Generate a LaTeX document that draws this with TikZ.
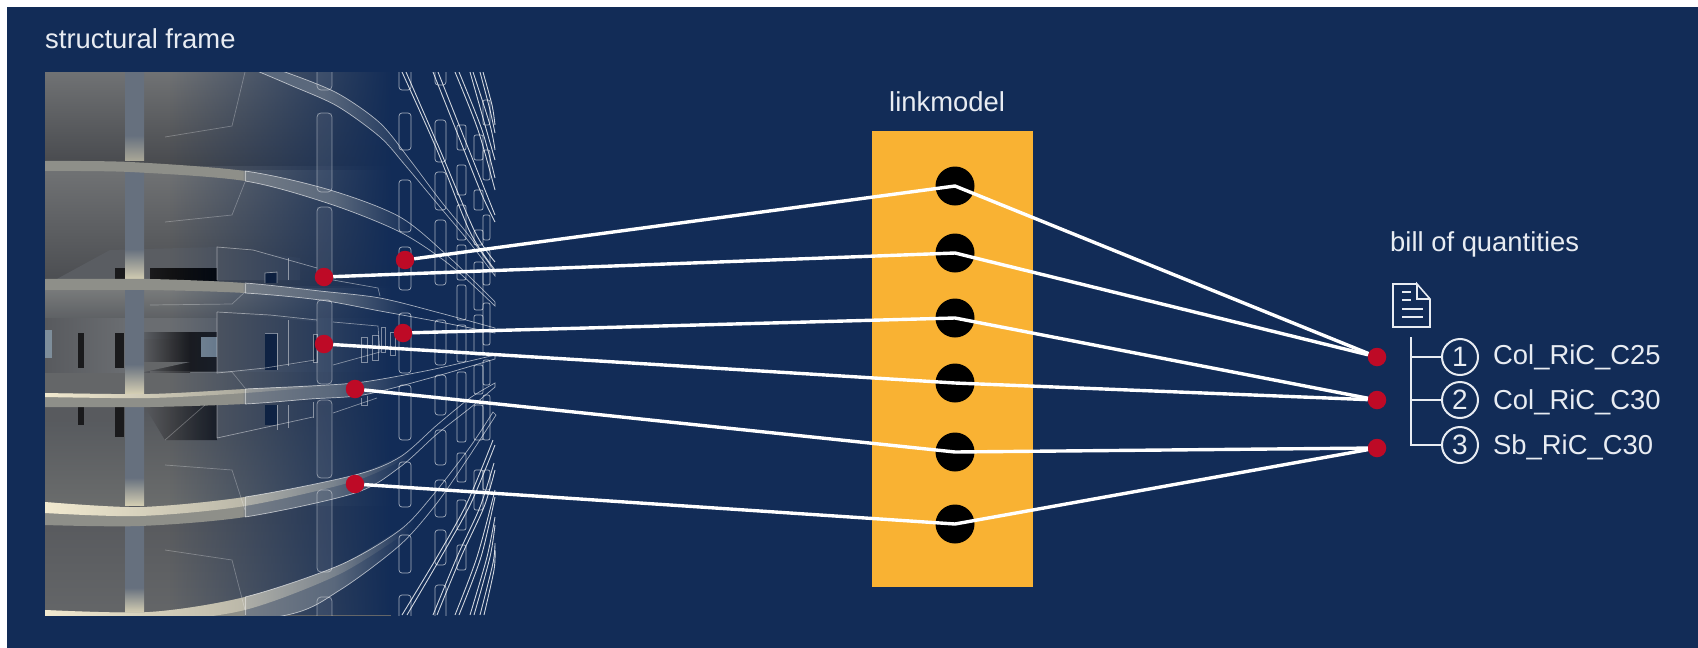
\documentclass[tikz,border=0pt]{standalone}
\usepackage{fontspec}
\setmainfont{Liberation Sans}
\usetikzlibrary{fadings}
\definecolor{navy}{HTML}{122C57}
\definecolor{orangeb}{HTML}{F9B233}
\definecolor{redd}{HTML}{BE0A26}
\definecolor{txt}{HTML}{E8ECF2}
\definecolor{cream}{HTML}{F2EAD0}
\definecolor{sg}{HTML}{8E8F89}
\definecolor{sb}{HTML}{747C86}
\definecolor{sm}{HTML}{5A687C}
\definecolor{slate}{HTML}{66707E}
\definecolor{glow}{HTML}{D2CCB2}
\definecolor{glowb}{HTML}{A8A697}
\definecolor{wa}{HTML}{707274}
\definecolor{wb}{HTML}{484A4E}
\definecolor{wc}{HTML}{4A4C50}
\definecolor{wd}{HTML}{7A7C7C}
\definecolor{we}{HTML}{5C5F63}
\definecolor{wg}{HTML}{54575C}
\definecolor{wh}{HTML}{6A6C6C}
\definecolor{wi}{HTML}{585A5E}
\definecolor{wj}{HTML}{646668}
\definecolor{wk}{HTML}{6A6D71}
\definecolor{wm}{HTML}{5A5D62}
\definecolor{win}{HTML}{7E8E9B}
\definecolor{dk}{HTML}{1A1A1C}
\pgfdeclarehorizontalshading{slabsh}{100bp}{color(0bp)=(sg);color(46.9bp)=(sg);color(47.4bp)=(sb);color(57bp)=(sm);color(66bp)=(navy);color(100bp)=(navy)}
\pgfdeclarehorizontalshading{slabshb}{100bp}{color(0bp)=(sm);color(40bp)=(sm);color(60bp)=(navy);color(100bp)=(navy)}
\pgfdeclareverticalshading{colsh}{100bp}{color(0bp)=(glow);color(25bp)=(glow);color(39bp)=(slate);color(100bp)=(slate)}
\pgfdeclareverticalshading{colshb}{100bp}{color(0bp)=(glowb);color(25bp)=(glowb);color(39bp)=(slate);color(100bp)=(slate)}
\tikzfading[name=fadein, left color=transparent!100, right color=transparent!0]
\tikzfading[name=fadeout, left color=transparent!0, middle color=transparent!20, right color=transparent!100]
\tikzfading[name=fadebump, left color=transparent!100, middle color=transparent!0, right color=transparent!100]
\tikzset{
  wl/.style={draw=white, draw opacity=.62, line width=.7pt},
  wo/.style={draw=white, draw opacity=.8, line width=.9pt},
  wfl/.style={draw=white, draw opacity=.28, line width=.7pt},
  wb2/.style={draw=white, draw opacity=.45, line width=.7pt},
  link/.style={draw=white, line width=3.4pt, line join=round},
  rdot/.style={circle, fill=redd, minimum size=18.5pt, inner sep=0pt, outer sep=0pt},
  bdot/.style={circle, fill=black, minimum size=39pt, inner sep=0pt, outer sep=0pt},
  lab/.style={anchor=base west, inner sep=0pt, text=txt, font=\fontsize{27.4}{30}\selectfont},
  num/.style={circle, draw=txt, line width=2pt, minimum size=36pt, inner sep=0pt, text=txt, font=\fontsize{28}{30}\selectfont},
  tree/.style={draw=txt, line width=1.8pt},
  doc/.style={draw=txt, line width=1.6pt},
}
\def\slabApath{plot[smooth] coordinates {(45,161)(130,162)(245,171)(330,190)(400,217)(450,258)(495,302)} -- plot[smooth] coordinates {(495,306)(450,265)(400,232)(330,204)(245,181)(130,172)(45,171)} -- cycle}
\def\slabBpath{plot[smooth] coordinates {(250,62)(285,72)(337,93)(380,123)(410,160)(440,200)(470,237)(495,272)} -- plot[smooth] coordinates {(495,276)(470,243)(440,207)(405,165)(380,137)(337,106)(290,85)(250,68)} -- cycle}
\def\slabCpath{plot[smooth] coordinates {(45,279)(150,279)(245,283)(320,291)(380,298)(440,313)(495,328)} -- plot[smooth] coordinates {(495,333)(440,322)(380,311)(320,300)(245,293)(150,290)(45,290)} -- cycle}
\def\slabDpath{plot[smooth] coordinates {(45,393)(150,394)(245,389)(310,386)(363,382)(430,370)(495,355)} -- plot[smooth] coordinates {(495,359)(430,378)(363,395)(310,399)(245,404)(150,407)(45,407)} -- cycle}
\def\slabEpath{plot[smooth] coordinates {(45,502)(140,507)(245,497)(355,475)(400,457)(437,425)(470,398)(495,383)} -- plot[smooth] coordinates {(495,387)(470,408)(437,434)(400,467)(355,493)(245,517)(140,526)(45,525)} -- cycle}
\def\slabFpath{plot[smooth] coordinates {(45,610)(150,612)(245,597)(340,565)(400,530)(433,495)(470,447)(493,412)} -- plot[smooth] coordinates {(496,415)(470,455)(437,503)(400,545)(340,590)(287,615)(150,630)(45,630)} -- cycle}
\begin{document}
\begin{tikzpicture}[x=1pt,y=-1pt]
\useasboundingbox (0,0) rectangle (1698,648);
\fill[white] (0,0) rectangle (1698,648);
\fill[navy] (7,7) rectangle (1698,648);

\begin{scope}
\clip (45,72) rectangle (497,615);
% floors
\fill[wi] (45,72) rectangle (395,615);
\shade[top color=wa, bottom color=wb] (45,72) rectangle (395,165);
\shade[top color=wa, bottom color=wc] (45,170) rectangle (395,285);
\shade[top color=wd, bottom color=we] (45,288) rectangle (395,320);
\fill[wk] (45,318) rectangle (395,372);
\fill[wj] (45,372) rectangle (395,395);
\shade[top color=wg, bottom color=wh] (45,405) rectangle (395,505);
\shade[top color=wi, bottom color=wj] (45,520) rectangle (395,615);
% upper floor interior
\fill[wm] (55,280) -- (110,250) -- (217,247) -- (217,280) -- cycle;
\fill[dk] (115,268) rectangle (125,280);
\shade[left color=dk, right color=black] (150,268) rectangle (217,280);
\fill[wm] (217,247) -- (300,258) -- (300,280) -- (217,280) -- cycle;
\fill[navy!50!black] (265,273) rectangle (277,283);
% middle floor interior
\shade[left color=wi, right color=wk] (45,318) rectangle (125,372);
\fill[dk] (78,333) rectangle (84,368);
\fill[dk] (115,333) rectangle (124,368);
\fill[win] (45,330) rectangle (52,358);
\shade[left color=wi, right color=dk] (144,332) rectangle (190,372);
\fill[dk] (190,332) rectangle (217,372);
\shade[left color=wm, right color=dk] (144,332) rectangle (190,338);
\fill[win] (201,337) rectangle (217,357);
\fill[wj] (144,362) -- (190,362) -- (144,372) -- cycle;
\fill[wm] (217,312) -- (317,322) -- (317,362) -- (217,373) -- cycle;
\fill[navy!60!black] (265,333) rectangle (277,370);
\fill[dk] (313,334) rectangle (316,362);
% lower-middle floor interior
\fill[wi] (45,405) rectangle (125,422);
\fill[dk] (78,405) rectangle (84,425);
\fill[dk] (115,405) rectangle (124,437);
\shade[left color=wi, right color=dk] (144,405) -- (217,405) -- (217,440) -- (165,440) -- cycle;
\fill[wm] (217,405) -- (317,402) -- (317,417) -- (217,440) -- cycle;
\fill[navy!60!black] (265,405) rectangle (277,425);
% central column
\shade[shading=colshb] (125,72) rectangle (144,160);
\shade[shading=colsh] (125,172) rectangle (144,279);
\shade[shading=colsh] (125,290) rectangle (144,393);
\shade[shading=colsh] (125,407) rectangle (144,505);
\shade[shading=colsh] (125,525) rectangle (144,612);
% fade into the background
\fill[navy, path fading=fadein] (170,72) rectangle (392,615);
\fill[navy] (391,71) rectangle (397,616);
% second column, faint
\foreach \a/\b in {72/90,113/192,207/278,300/384,400/478,490/572,597/615}{
  \fill[white, opacity=.07] (317,\a) rectangle (332,\b);
}
% slabs
\shade[shading=slabshb] \slabBpath;
\shade[shading=slabsh] \slabApath;
\shade[shading=slabsh] \slabCpath;
\shade[shading=slabsh] \slabDpath;
\shade[shading=slabsh] \slabEpath;
\shade[shading=slabsh] \slabFpath;
% glows
\fill[cream, path fading=fadeout] plot[smooth] coordinates {(45,502)(140,507)(245,497)(355,475)(410,450)} -- plot[smooth] coordinates {(410,456)(355,481)(245,506)(140,516)(45,513)} -- cycle;
\fill[cream, path fading=fadeout] plot[smooth] coordinates {(45,610)(150,612)(245,597)(340,565)(410,522)} -- plot[smooth] coordinates {(410,530)(340,574)(245,610)(150,622)(45,622)} -- cycle;
\fill[cream, path fading=fadeout] plot[smooth] coordinates {(45,393)(150,394)(245,389)(330,384)} -- plot[smooth] coordinates {(330,386)(245,393)(150,398)(45,397)} -- cycle;
\fill[glow, opacity=.16, path fading=fadebump] plot[smooth] coordinates {(230,596)(340,548)(420,485)} -- plot[smooth] coordinates {(420,492)(340,562)(230,612)} -- cycle;
\fill[glow, opacity=.16, path fading=fadebump] plot[smooth] coordinates {(230,492)(340,466)(420,428)} -- plot[smooth] coordinates {(420,434)(340,476)(230,504)} -- cycle;
% slab outlines to the right of x=245
\begin{scope}
\clip (245,60) rectangle (500,620);
\draw[wl] \slabApath; \draw[wl] \slabBpath; \draw[wl] \slabCpath;
\draw[wl] \slabDpath; \draw[wl] \slabEpath; \draw[wl] \slabFpath;
\end{scope}
\foreach \a/\b in {171/181,284/293,389/404,497/517,597/615}{\draw[wb2] (245,\a) -- (245,\b);}
% faint lines
\draw[wfl] (245,72) -- (232,126) -- (165,137);
\draw[wfl] (245,182) -- (232,215) -- (165,222);
\draw[wfl] (245,292) -- (232,304) -- (150,305);
\draw[wfl] (150,372) -- (232,372) -- (245,388);
\draw[wfl] (165,465) -- (232,470) -- (245,510);
\draw[wfl] (165,550) -- (232,560) -- (245,610);
\draw[wfl] (205,405) -- (165,440);
% building block outlines
\draw[wb2] (217,280) -- (217,247) -- (253,250) -- (317,268);
\draw[wb2] (333,280) -- (378,288) -- (380,296);
\draw[wb2] (288,258) -- (288,280);
\draw[wb2] (265,283) -- (265,273) -- (277,272) -- (277,283);
\draw[wb2] (217,312) -- (270,315) -- (317,320);
\draw[wb2] (333,322) -- (378,326) -- (380,352) -- (333,365);
\draw[wb2] (217,312) -- (217,373) -- (265,368) -- (315,360);
\draw[wb2] (288,320) -- (288,366);
\draw[wb2] (265,333) -- (277,333) -- (277,370);
\draw[wb2] (313,334) rectangle (317,362);
\draw[wb2] (361,337) rectangle (367,362);
\draw[wb2] (372,335) rectangle (378,360);
\draw[wb2] (381,327) rectangle (385,352);
\draw[wb2] (390,332) rectangle (395,355);
\draw[wb2] (217,405) -- (217,438) -- (313,417);
\draw[wb2] (333,413) -- (377,398);
\draw[wb2] (277,405) -- (277,430);
\draw[wb2] (288,405) -- (288,428);
\draw[wb2] (313,402) -- (313,418);
\draw[wb2] (361,398) -- (361,405) -- (367,405) -- (367,396);
% outlined columns
\foreach \a/\b in {60/90,113/192,207/278,300/384,400/478,490/572,597/625}{
  \draw[wb2,rounded corners=4pt] (317,\a) rectangle (332,\b);
}
\foreach \a/\b in {60/90,113/150,180/232,247/290,313/373,385/440,462/507,535/573,595/625}{
  \draw[wl,rounded corners=3pt] (399,\a) rectangle (411,\b);
}
\foreach \a/\b in {60/85,120/162,172/210,220/285,320/365,375/415,430/465,480/517,530/565,585/625}{
  \draw[wl,rounded corners=3pt] (435,\a) rectangle (446,\b);
}
\foreach \a/\b in {125/150,165/195,205/240,245/280,285/320,325/362,372/442,453/482,500/530,545/570}{
  \draw[wl,rounded corners=2pt] (457,\a) rectangle (466,\b);
}
\foreach \a/\b in {135/160,190/210,230/245,262/310,315/355,365/394,405/440,470/510}{
  \draw[wl,rounded corners=2pt] (474,\a) rectangle (483,\b);
}
\foreach \a/\b in {100/125,150/180,215/240,250/285,303/345,360/385,395/440,470/490}{
  \draw[wl,rounded corners=2pt] (483,\a) rectangle (490,\b);
}
% outer floor edges
\draw[wo] plot[smooth] coordinates {(402,72)(437,150)(470,232)(495,270)};
\draw[wo] plot[smooth] coordinates {(406,72)(440,150)(475,232)(495,262)};
\draw[wo] plot[smooth] coordinates {(433,72)(460,140)(482,195)(495,222)};
\draw[wo] plot[smooth] coordinates {(438,72)(465,140)(487,195)(495,215)};
\draw[wo] plot[smooth] coordinates {(455,72)(478,130)(495,190)};
\draw[wo] plot[smooth] coordinates {(459,72)(482,130)(495,178)};
\draw[wo] plot[smooth] coordinates {(470,72)(485,125)(495,160)};
\draw[wo] plot[smooth] coordinates {(473,72)(490,125)(495,150)};
\draw[wo] plot[smooth] coordinates {(480,72)(490,110)(495,133)};
\draw[wo] plot[smooth] coordinates {(483,72)(492,105)(495,125)};
\draw[wo] plot[smooth] coordinates {(402,615)(437,557)(467,503)(493,440)};
\draw[wo] plot[smooth] coordinates {(407,615)(441,557)(471,503)(495,445)};
\draw[wo] plot[smooth] coordinates {(433,615)(457,557)(480,507)(494,463)};
\draw[wo] plot[smooth] coordinates {(437,615)(461,557)(484,507)(495,470)};
\draw[wo] plot[smooth] coordinates {(455,615)(477,557)(495,490)};
\draw[wo] plot[smooth] coordinates {(459,615)(481,557)(495,497)};
\draw[wo] plot[smooth] coordinates {(470,615)(487,557)(495,517)};
\draw[wo] plot[smooth] coordinates {(474,615)(490,557)(495,525)};
\draw[wo] plot[smooth] coordinates {(480,615)(493,563)(495,543)};
\draw[wo] plot[smooth] coordinates {(484,615)(494,570)(495,550)};
\end{scope}

% link model
\node[fill=orangeb, inner sep=0pt, outer sep=0pt, minimum width=161pt, minimum height=456pt] (linkbox) at (952.5,359) {};
\node[bdot] (b1) at (955,186) {};
\node[bdot] (b2) at (955,253) {};
\node[bdot] (b3) at (955,318) {};
\node[bdot] (b4) at (955,383) {};
\node[bdot] (b5) at (955,452) {};
\node[bdot] (b6) at (955,524) {};

% red points
\node[rdot] (r1) at (405,260) {};
\node[rdot] (r2) at (324,277) {};
\node[rdot] (r3) at (403,333) {};
\node[rdot] (r4) at (324,344) {};
\node[rdot] (r5) at (355,389) {};
\node[rdot] (r6) at (355,484) {};
\node[rdot] (q1) at (1377,357) {};
\node[rdot] (q2) at (1377,400) {};
\node[rdot] (q3) at (1377,448) {};

% links
\draw[link] (r1) -- (b1.center) -- (q1);
\draw[link] (r2) -- (b2.center) -- (q1);
\draw[link] (r3) -- (b3.center) -- (q2);
\draw[link] (r4) -- (b4.center) -- (q2);
\draw[link] (r5) -- (b5.center) -- (q3);
\draw[link] (r6) -- (b6.center) -- (q3);

% labels
\node[lab] (t1) at (45,48) {structural frame};
\node[lab] (t2) at (889,111) {linkmodel};
\node[lab] (t3) at (1390,251) {bill of quantities};
\node[lab] (c1) at (1493,364) {Col\_RiC\_C25};
\node[lab] (c2) at (1493,409) {Col\_RiC\_C30};
\node[lab] (c3) at (1493,454) {Sb\_RiC\_C30};
\node[num] (n1) at (1460,357) {1};
\node[num] (n2) at (1460,400) {2};
\node[num] (n3) at (1460,445) {3};

% tree
\coordinate (trunk) at (1411,337);
\draw[tree] (trunk) -- (trunk |- n3) -- (n3);
\draw[tree] (trunk |- n1) -- (n1);
\draw[tree] (trunk |- n2) -- (n2);

% document icon
\draw[doc, line join=miter] (1417,284) -- (1393,284) -- (1393,327) -- (1430,327) -- (1430,299) -- (1417,284) -- (1417,299) -- (1430,299);
\draw[doc] (1402,292) -- (1411,292);
\draw[doc] (1402,300) -- (1411,300);
\draw[doc] (1402,309) -- (1423,309);
\draw[doc] (1402,317) -- (1423,317);
\end{tikzpicture}
\end{document}
